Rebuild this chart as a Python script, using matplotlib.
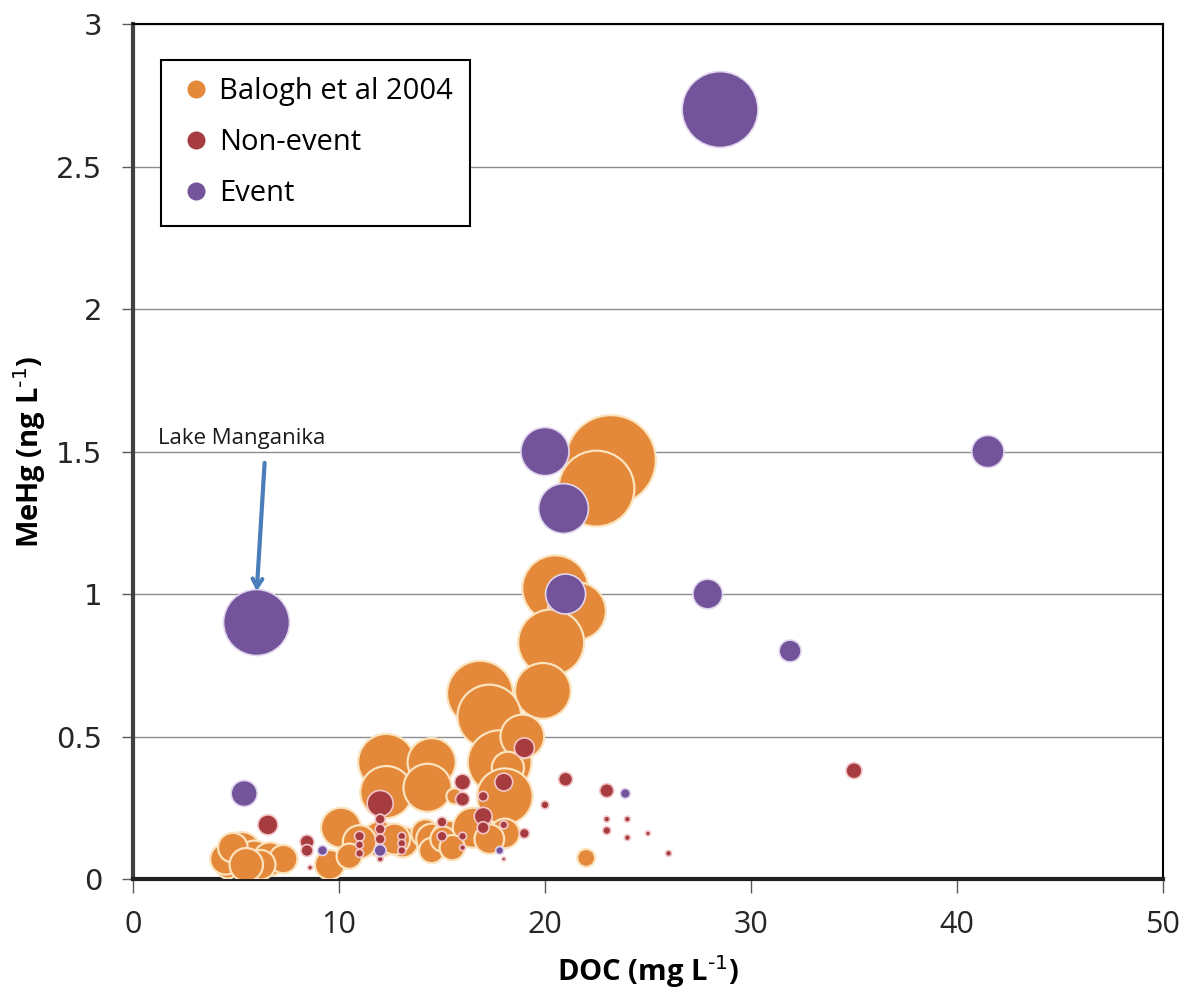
import matplotlib
matplotlib.use("Agg")
import matplotlib.pyplot as plt

# Balogh et al 2004 survey: DOC (mg/L), MeHg (ng/L), bubble value
balogh_doc = [23.2, 22.5, 20.5, 21.55, 20.3, 19.9, 16.85, 17.3, 17.8, 18.9, 18.2, 18.05,
              12.3, 14.5, 12.3, 14.3, 10.1, 9.55,
              12.0, 13.1, 14.2, 14.5, 15.3, 14.5, 11.0, 10.5, 12.7,
              16.5, 18.05, 15.05, 15.5, 17.3, 15.6,
              5.3, 4.6, 4.5, 5.9, 6.65, 7.3, 4.85, 6.2, 5.5, 22.0]
balogh_mehg = [1.47, 1.37, 1.02, 0.94, 0.83, 0.66, 0.65, 0.57, 0.41, 0.50, 0.39, 0.29,
               0.41, 0.41, 0.305, 0.32, 0.18, 0.05,
               0.14, 0.13, 0.16, 0.14, 0.15, 0.10, 0.13, 0.08, 0.14,
               0.18, 0.16, 0.14, 0.11, 0.14, 0.29,
               0.10, 0.04, 0.07, 0.07, 0.07, 0.07, 0.11, 0.05, 0.05, 0.074]
balogh_val = [202, 144, 109, 84, 109, 78, 109, 102, 102, 48, 26, 78,
              80, 58, 68, 58, 40, 22,
              32, 24, 20, 24, 24, 16, 28, 16, 24,
              40, 22, 16, 16, 22, 6.4,
              34, 12, 24, 34, 28, 20, 22, 22, 28, 8]

# Non-event samples
nonevent_doc = [35.0, 6.55, 12.0, 19.0, 18.0, 16.0, 21.0, 23.0, 20.0, 23.0, 24.0, 23.0,
                24.0, 25.0, 26.0, 19.0, 16.0, 17.0, 17.0, 17.0, 15.0, 15.0, 16.0, 16.0,
                18.0, 18.0, 8.45, 8.45, 8.6, 11.0, 11.0, 11.0, 12.0, 12.0, 12.0,
                13.05, 13.05, 13.05, 12.0]
nonevent_mehg = [0.38, 0.19, 0.265, 0.46, 0.34, 0.34, 0.35, 0.31, 0.26, 0.21, 0.21, 0.17,
                 0.145, 0.16, 0.09, 0.16, 0.28, 0.29, 0.22, 0.18, 0.20, 0.15, 0.15, 0.11,
                 0.19, 0.07, 0.13, 0.10, 0.04, 0.15, 0.12, 0.09, 0.175, 0.14, 0.07,
                 0.15, 0.125, 0.10, 0.21]
nonevent_val = [6.4, 10, 17, 10, 8, 6.4, 4.9, 4.9, 1.6, 0.9, 0.9, 1.6,
                0.9, 0.6, 0.9, 2.5, 4.9, 2.5, 8, 3.6, 2.5, 2.5, 1.6, 0.9,
                1.6, 0.4, 4.9, 3.6, 0.6, 2.5, 1.6, 1.6, 2.5, 2.5, 0.9,
                1.6, 1.6, 1.6, 2.5]

# Event samples
event_doc = [28.5, 6.0, 20.0, 20.9, 21.0, 41.5, 27.9, 31.9, 5.4, 9.2, 12.0, 17.8, 23.9]
event_mehg = [2.7, 0.9, 1.5, 1.3, 1.0, 1.5, 1.0, 0.8, 0.3, 0.1, 0.1, 0.1, 0.3]
event_val = [144, 109, 58, 62, 40, 26, 22, 12, 17, 2.5, 3.6, 1.6, 2.5]

series_names = ["Balogh et al 2004", "Non-event", "Event"]
x_ticks = [0, 10, 20, 30, 40, 50]
y_ticks = [0, 0.5, 1, 1.5, 2, 2.5, 3]

ORANGE = "#E4893A"
RED = "#A63C40"
PURPLE = "#73549A"
SCALE = 20.7  # points^2 per bubble unit

fig = plt.figure(figsize=(11.86, 9.93), dpi=100)
ax = fig.add_axes([0.1121, 0.1148, 0.8685, 0.861])

ax.scatter(balogh_doc, balogh_mehg, s=[v * SCALE for v in balogh_val], c=ORANGE,
           edgecolors="#FBE3BE", linewidths=1.6, zorder=3)
ax.scatter(nonevent_doc, nonevent_mehg, s=[v * SCALE for v in nonevent_val], c=RED,
           edgecolors="#F2C6C8", linewidths=1.2, zorder=4)
ax.scatter(event_doc, event_mehg, s=[v * SCALE for v in event_val], c=PURPLE,
           edgecolors="#E2D6EE", linewidths=1.2, zorder=5)

ax.set_xlim(0, 50)
ax.set_ylim(0, 3)
ax.set_xticks(x_ticks)
ax.set_xticklabels([str(t) for t in x_ticks])
ax.set_yticks(y_ticks)
ax.set_yticklabels(["0", "0.5", "1", "1.5", "2", "2.5", "3"])
ax.yaxis.grid(True, color="#8C8C8C", linewidth=1.0, zorder=0)
ax.set_axisbelow(True)

for lbl in ax.get_yticklabels():
    lbl.set_fontfamily("DejaVu Sans")
    lbl.set_fontsize(21)
    lbl.set_color("#262626")
for lbl in ax.get_xticklabels():
    lbl.set_fontfamily("Open Sans")
    lbl.set_fontsize(22)
    lbl.set_color("#262626")

ax.tick_params(axis="y", length=8, width=1, color="#595959", pad=14)
ax.tick_params(axis="x", length=10, width=1, color="#595959", pad=12)

for side in ["top", "right"]:
    ax.spines[side].set_color("black")
    ax.spines[side].set_linewidth(1.5)
ax.spines["left"].set_color("#404040")
ax.spines["left"].set_linewidth(3)
ax.spines["bottom"].set_color("#202020")
ax.spines["bottom"].set_linewidth(3)

ax.set_xlabel(r"DOC (mg L$^{\text{-1}}$)", fontsize=21, fontweight="bold",
              family="Open Sans", labelpad=10)
ax.set_ylabel(r"MeHg (ng L$^{\text{-1}}$)", fontsize=21, fontweight="bold",
              family="Open Sans", labelpad=6)

# Legend with fixed-size markers
handles = [
    plt.Line2D([], [], marker="o", linestyle="", markersize=13, markerfacecolor=c,
               markeredgecolor="none")
    for c in (ORANGE, RED, PURPLE)
]
leg = ax.legend(handles, series_names, loc="upper left", bbox_to_anchor=(0.027, 0.958),
                borderaxespad=0.0,
                frameon=True, fancybox=False, edgecolor="black", framealpha=1,
                prop={"family": "Open Sans", "size": 21}, handletextpad=0.2,
                handlelength=1.2, labelspacing=0.75, borderpad=0.6)
leg.get_frame().set_linewidth(1.5)
leg.set_zorder(10)

# Callout for Lake Manganika
ax.text(1.2, 1.51, "Lake Manganika", fontsize=16, family="Open Sans",
        color="#1a1a1a", va="bottom", zorder=11)
ax.annotate("", xy=(6.0, 1.0), xytext=(6.4, 1.47),
            arrowprops=dict(arrowstyle="->,head_length=0.6,head_width=0.35",
                            color="#4A7EBB", lw=3), zorder=11)

fig.savefig("out.png", dpi=100)
